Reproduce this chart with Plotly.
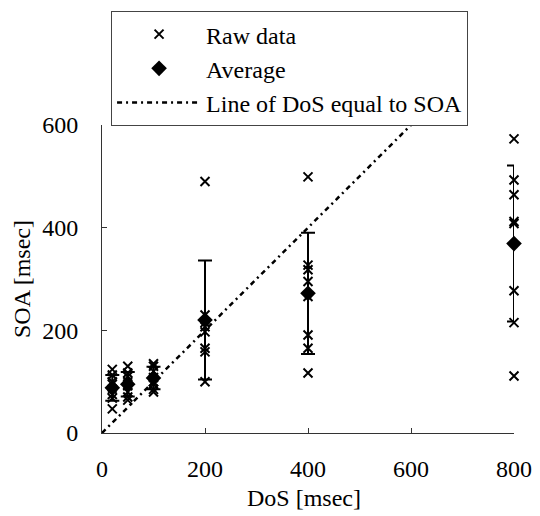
import plotly.graph_objects as go

dos_levels = [20, 50, 100, 200, 400, 800]
raw_20 = [124, 113, 100, 95, 85, 75, 68, 47]
raw_50 = [130, 117, 110, 100, 92, 80, 70, 64]
raw_100 = [135, 130, 120, 108, 100, 95, 85, 80]
raw_200 = [490, 230, 215, 207, 197, 165, 158, 100]
raw_400 = [499, 327, 318, 295, 266, 191, 165, 117]
raw_800 = [573, 493, 464, 412, 408, 277, 215, 111]
avg_soa = [88, 95, 107, 220, 272, 369]
sd_soa = [25, 24, 22, 116, 118, 152]
line_x = [0, 600]
line_y = [0, 600]

raw_sets = [raw_20, raw_50, raw_100, raw_200, raw_400, raw_800]
raw_x, raw_y = [], []
for d, vals in zip(dos_levels, raw_sets):
    raw_x += [d] * len(vals)
    raw_y += vals

FONT = "Liberation Serif, Times New Roman, serif"

fig = go.Figure()
fig.add_trace(go.Scatter(
    x=raw_x, y=raw_y, mode="markers", name="Raw data",
    marker=dict(symbol="x-thin", size=9, color="black",
                line=dict(width=2, color="black")),
    cliponaxis=False,
))
fig.add_trace(go.Scatter(
    x=dos_levels, y=avg_soa, mode="markers", name="Average",
    marker=dict(symbol="diamond", size=12, color="black"),
    error_y=dict(type="data", array=sd_soa, visible=True,
                 color="black", thickness=2, width=7),
    cliponaxis=False,
))
fig.add_trace(go.Scatter(
    x=line_x, y=line_y, mode="lines", name="Line of DoS equal to SOA",
    line=dict(color="black", width=2.5, dash="5px,4px,2px,4px"),
    cliponaxis=False,
))

axis_common = dict(
    showgrid=False, zeroline=False, showline=True, linecolor="#333",
    linewidth=1, ticks="inside", ticklen=5, tickcolor="#333",
    tickfont=dict(family=FONT, size=24, color="black"),
    title_font=dict(family=FONT, size=24, color="black"),
    automargin=False,
)

fig.update_layout(
    width=540, height=516,
    margin=dict(l=94, r=34, t=117, b=91, autoexpand=False),
    paper_bgcolor="white", plot_bgcolor="white",
    font=dict(family=FONT, size=24, color="black"),
    xaxis=dict(range=[0, 800], tickvals=[0, 200, 400, 600, 800],
               ticklabelstandoff=14, **axis_common),
    yaxis=dict(range=[0, 600], tickvals=[0, 200, 400, 600],
               title=dict(text="SOA [msec]", standoff=4),
               ticklabelstandoff=18, **axis_common),
    legend=dict(
        x=0.022, y=1.37, xanchor="left", yanchor="top",
        bgcolor="white", bordercolor="#444", borderwidth=1,
        font=dict(family=FONT, size=24, color="black"),
        indentation=0, itemwidth=84,
    ),
    showlegend=True,
    annotations=[dict(
        text="DoS [msec]", xref="paper", yref="paper",
        x=0.49, y=-0.21, xanchor="center", yanchor="middle",
        showarrow=False, font=dict(family=FONT, size=24, color="black"),
    )],
)

fig.write_html("out.html")
